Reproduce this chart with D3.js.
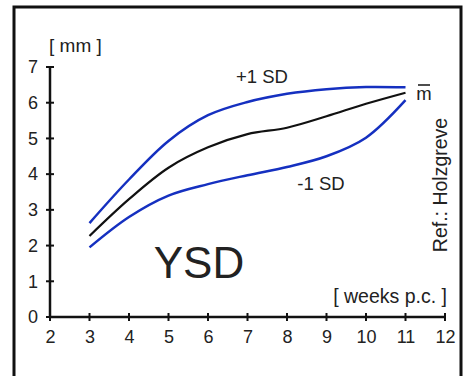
<!DOCTYPE html>
<html><head><meta charset="utf-8">
<script src="https://cdn.jsdelivr.net/npm/d3@7"></script>
<style>body{margin:0;background:#fff}svg{display:block}</style>
</head><body><svg id="c" width="471" height="376"></svg>
<script>
const weeks = [3,4,5,6,7,8,9,10,11];
const plus1SD = [2.63,3.85,4.93,5.65,6.02,6.25,6.38,6.44,6.43];
const mean    = [2.27,3.30,4.18,4.75,5.12,5.30,5.62,5.97,6.28];
const minus1SD= [1.95,2.80,3.40,3.72,3.97,4.20,4.50,5.02,6.07];
const xTicks = [2,3,4,5,6,7,8,9,10,11,12];
const yTicks = [0,1,2,3,4,5,6,7];

const svg = d3.select("#c");
const font = "Liberation Sans, Arial, Helvetica, sans-serif";
const x = d3.scaleLinear().domain([2,12]).range([50,445]);
const y = d3.scaleLinear().domain([0,7]).range([317,67]);

// frame
svg.append("path").attr("d","M14,390 L14,7 L461,7 L461,390")
  .attr("fill","none").attr("stroke","#111").attr("stroke-width",3);

// axes
const yAx = svg.append("g").attr("transform","translate(50,0)")
  .call(d3.axisLeft(y).tickValues(yTicks).tickSize(0).tickPadding(12).tickFormat(d3.format("d")));
yAx.select(".domain").remove();
yAx.selectAll("text").attr("font-family",font).attr("font-size",18).attr("fill","#222");
svg.append("line").attr("x1",50).attr("x2",50).attr("y1",y(0)).attr("y2",y(7))
  .attr("stroke","#111").attr("stroke-width",2.5);
svg.selectAll(".yt").data(yTicks).join("line").attr("class","yt")
  .attr("x1",46).attr("x2",54).attr("y1",d=>y(d)).attr("y2",d=>y(d))
  .attr("stroke","#111").attr("stroke-width",2);

const xAx = svg.append("g").attr("transform","translate(0,317)")
  .call(d3.axisBottom(x).tickValues(xTicks).tickSize(0).tickPadding(13).tickFormat(d3.format("d")));
xAx.select(".domain").remove();
xAx.selectAll("text").attr("font-family",font).attr("font-size",18).attr("fill","#222");
svg.append("line").attr("x1",x(2)).attr("x2",x(12)).attr("y1",317).attr("y2",317)
  .attr("stroke","#111").attr("stroke-width",2.5);
svg.selectAll(".xt").data(xTicks).join("line").attr("class","xt")
  .attr("x1",d=>x(d)).attr("x2",d=>x(d)).attr("y1",313).attr("y2",321)
  .attr("stroke","#111").attr("stroke-width",2);

// curves
const line = d3.line().x((d,i)=>x(weeks[i])).y(d=>y(d)).curve(d3.curveCatmullRom.alpha(0.5));
svg.append("path").attr("d",line(plus1SD)).attr("fill","none").attr("stroke","#1530c0").attr("stroke-width",2.5);
svg.append("path").attr("d",line(minus1SD)).attr("fill","none").attr("stroke","#1530c0").attr("stroke-width",2.5);
svg.append("path").attr("d",line(mean)).attr("fill","none").attr("stroke","#111").attr("stroke-width",2.2);

// labels
const t = (txt,xx,yy,size,anchor="start") => svg.append("text").text(txt)
  .attr("x",xx).attr("y",yy).attr("font-family",font).attr("font-size",size)
  .attr("text-anchor",anchor).attr("fill","#222");
t("[ mm ]",49,52,19);
t("+1 SD",262,83,18.5,"middle");
t("-1 SD",321,190,18.5,"middle");
t("m",424,100,18.5,"middle");
svg.append("line").attr("x1",418).attr("x2",430).attr("y1",85).attr("y2",85)
  .attr("stroke","#222").attr("stroke-width",1.6);
t("[ weeks p.c. ]",447,303,19.5,"end");
t("YSD",199,278,44,"middle");
svg.append("text").text("Ref.: Holzgreve")
  .attr("transform","translate(447,185) rotate(-90)")
  .attr("font-family",font).attr("font-size",19.5).attr("text-anchor","middle").attr("fill","#222");
</script></body></html>
